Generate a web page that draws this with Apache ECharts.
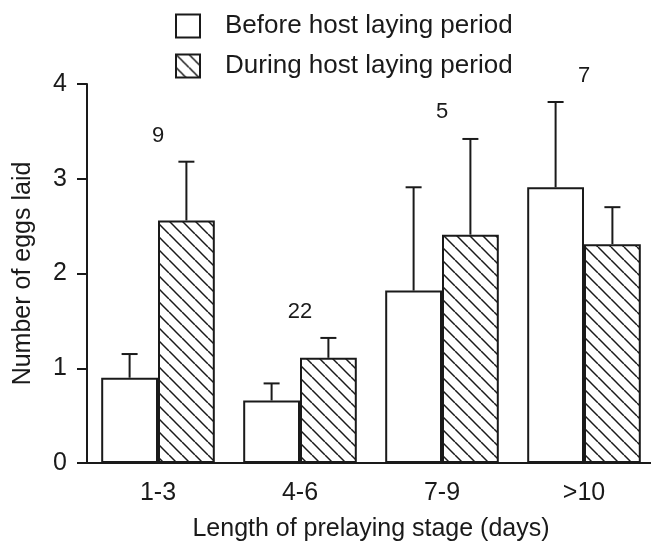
<html>
<head>
    <meta charset="utf-8">
    <title>Chart</title>
    <script src="https://cdn.jsdelivr.net/npm/echarts@6/dist/echarts.min.js"></script>
    <style>
        html, body { margin: 0; padding: 0; background: #fff; }
        #main { width: 651px; height: 546px; }
    </style>
</head>
<body>
    <div id="main"></div>
    <script type="text/javascript">
        // data
        var categories = ['1-3', '4-6', '7-9', '>10'];
        var beforeMean = [0.90, 0.66, 1.82, 2.91];
        var beforeUpper = [1.15, 0.84, 2.91, 3.81];
        var duringMean = [2.56, 1.11, 2.41, 2.31];
        var duringUpper = [3.18, 1.32, 3.42, 2.70];
        var sampleSizes = ['9', '22', '5', '7'];
        var sampleY = [3.45, 1.59, 3.70, 4.09];
        var yTicks = [0, 1, 2, 3, 4];

        var ink = '#1a1a1a';
        var font = 'Liberation Sans, Arial, sans-serif';

        // diagonal hatch tile
        function makeHatch() {
            var s = 13;
            var c = document.createElement('canvas');
            c.width = s; c.height = s;
            var g = c.getContext('2d');
            g.fillStyle = '#fff';
            g.fillRect(0, 0, s, s);
            g.strokeStyle = ink;
            g.lineWidth = 1.5;
            [-s, 0, s].forEach(function (o) {
                g.beginPath();
                g.moveTo(o, 0);
                g.lineTo(o + s, s);
                g.stroke();
            });
            return c;
        }
        var hatch = { image: makeHatch(), repeat: 'repeat' };

        function errData(upper, mean) {
            return upper.map(function (u, i) { return [i, mean[i], u]; });
        }

        function errRender(side) {
            return function (params, api) {
                var band = api.size([1, 0])[0];
                var base = api.coord([api.value(0), api.value(1)]);
                var top = api.coord([api.value(0), api.value(2)]);
                var x = base[0] + side * band * 0.2;
                var style = { stroke: ink, lineWidth: 2 };
                return {
                    type: 'group',
                    children: [
                        { type: 'line', shape: { x1: x, y1: base[1], x2: x, y2: top[1] }, style: style },
                        { type: 'line', shape: { x1: x - 8, y1: top[1], x2: x + 8, y2: top[1] }, style: style }
                    ]
                };
            };
        }

        var myChart = echarts.init(document.getElementById('main'));

        var option = {
            animation: false,
            textStyle: { fontFamily: font, color: ink },
            legend: {
                orient: 'vertical',
                left: 175,
                top: 13,
                padding: 0,
                icon: 'rect',
                itemWidth: 24,
                itemHeight: 23,
                itemGap: 14,
                data: ['Before host laying period', 'During host laying period'],
                textStyle: { fontSize: 26, color: ink, padding: [0, 0, 0, 20] }
            },
            grid: { left: 87, right: -4, top: 84, bottom: 83, outerBoundsMode: 'none', containLabel: false },
            xAxis: {
                type: 'category',
                data: categories,
                name: 'Length of prelaying stage (days)',
                nameLocation: 'middle',
                nameGap: 54,
                nameTextStyle: { fontSize: 25, color: ink },
                axisLine: { lineStyle: { color: ink, width: 2 } },
                axisTick: { alignWithLabel: true, length: 9, lineStyle: { color: ink, width: 2 } },
                axisLabel: { fontSize: 25, color: ink, margin: 18 }
            },
            yAxis: {
                type: 'value',
                min: yTicks[0],
                max: yTicks[yTicks.length - 1],
                interval: 1,
                name: 'Number of eggs laid',
                nameLocation: 'middle',
                nameGap: 51,
                nameTextStyle: { fontSize: 25, color: ink },
                splitLine: { show: false },
                axisLine: { show: true, lineStyle: { color: ink, width: 2 } },
                axisTick: { show: true, length: 10, lineStyle: { color: ink, width: 2 } },
                axisLabel: { fontSize: 25, color: ink, margin: 20 }
            },
            series: [
                {
                    name: 'Before host laying period',
                    type: 'bar',
                    data: beforeMean,
                    barWidth: '40%',
                    barGap: '0%',
                    itemStyle: { color: '#fff', borderColor: ink, borderWidth: 2 }
                },
                {
                    name: 'During host laying period',
                    type: 'bar',
                    data: duringMean,
                    barWidth: '40%',
                    barGap: '0%',
                    itemStyle: { color: hatch, borderColor: ink, borderWidth: 2 }
                },
                {
                    type: 'custom',
                    renderItem: errRender(-1),
                    data: errData(beforeUpper, beforeMean),
                    encode: { x: 0, y: [1, 2] },
                    z: 1
                },
                {
                    type: 'custom',
                    renderItem: errRender(1),
                    data: errData(duringUpper, duringMean),
                    encode: { x: 0, y: [1, 2] },
                    z: 1
                },
                {
                    type: 'scatter',
                    symbolSize: 0,
                    clip: false,
                    silent: true,
                    itemStyle: { opacity: 1 },
                    data: sampleY.map(function (v, i) { return [i, v]; }),
                    label: {
                        show: true,
                        position: 'inside',
                        fontSize: 22,
                        color: ink,
                        opacity: 1,
                        formatter: function (p) { return sampleSizes[p.dataIndex]; }
                    }
                }
            ]
        };
        myChart.setOption(option);
    </script>
</body>
</html>
